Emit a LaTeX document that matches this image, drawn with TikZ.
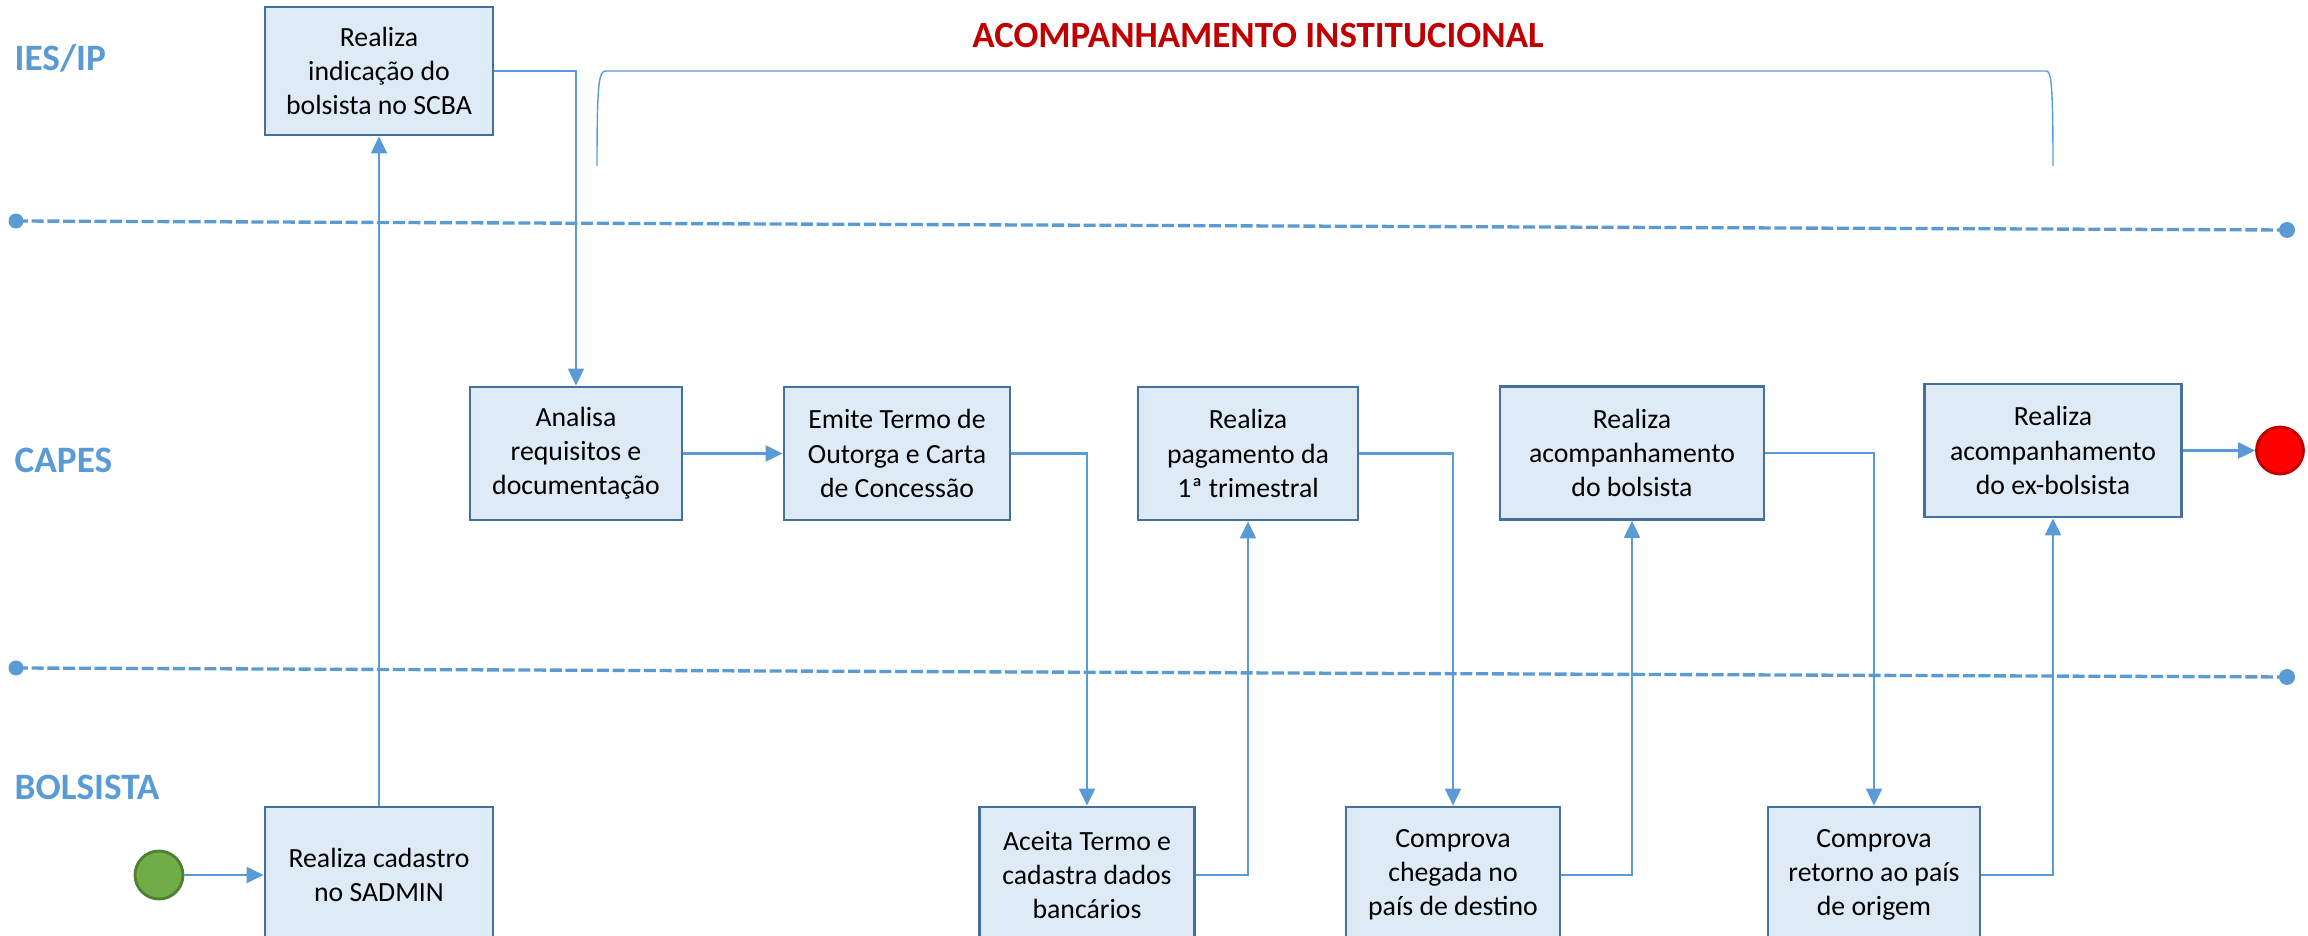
\documentclass[tikz,border=0pt]{standalone}
\usepackage{fontspec}
\setmainfont{Carlito}
\usetikzlibrary{arrows.meta}

\begin{document}
\begin{tikzpicture}
%% Colors
\definecolor{laneCol}{HTML}{5B9BD5}
\definecolor{boxFill}{HTML}{DEEBF7}
\definecolor{boxLine}{HTML}{41719C}
\definecolor{titleCol}{HTML}{C00000}
\definecolor{startFill}{HTML}{70AD47}
\definecolor{startLine}{HTML}{507E32}
%% Styles
\tikzset{
actbox/.style={draw=boxLine, line width=0.8pt, fill=boxFill, align=center, inner sep=0pt,
  minimum height=1.33cm, font=\fontsize{7.9}{9.7}\selectfont},
lane/.style={anchor=west, inner sep=0pt, text=laneCol, font=\fontsize{10.6}{12}\selectfont\bfseries},
flow/.style={draw=laneCol, line width=0.6pt, -{Triangle[length=1.7mm,width=1.6mm]}},
laneLine/.style={draw=laneCol, line width=0.95pt, dash pattern=on 1.2mm off 0.37mm},
}
\path[use as bounding box, clip] (0,0) rectangle (23.08,-9.36);

%% Lanes
\node[lane] (ies) at (0.14,-0.58) {IES/IP};
\node[lane] (capes) at (0.14,-4.60) {CAPES};
\node[lane] (bolsista) at (0.14,-7.87) {BOLSISTA};
\foreach \ya/\yb in {2.21/2.30, 6.68/6.77}{
\path[laneLine] (0.16,-\ya) -- (22.87,-\yb);
\path[fill=laneCol] (0.16,-\ya) circle (0.075) (22.87,-\yb) circle (0.08);
}

%% Institutional follow-up
\node[inner sep=0pt, text=titleCol, font=\fontsize{10.5}{12}\selectfont\bfseries] (titulo) at (12.58,-0.36) {ACOMPANHAMENTO INSTITUCIONAL};
\path[draw=laneCol, line width=0.4pt] (5.97,-1.66) .. controls (5.97,-0.80) and (5.99,-0.71) .. (6.06,-0.71)
-- (20.46,-0.71) .. controls (20.51,-0.71) and (20.53,-0.80) .. (20.53,-1.66);

%% Activities
\node[actbox, minimum width=2.28cm, minimum height=1.28cm] (indica) at (3.79,-0.71) {Realiza\\indicação do\\bolsista no SCBA};
\node[actbox, minimum width=2.28cm, minimum height=1.36cm] (cadastro) at (3.79,-8.75) {Realiza cadastro\\no SADMIN};
\node[actbox, minimum width=2.12cm] (analisa) at (5.76,-4.535) {Analisa\\requisitos e\\documentação};
\node[actbox, minimum width=2.26cm] (emite) at (8.97,-4.535) {Emite Termo de\\Outorga e Carta\\de Concessão};
\node[actbox, minimum width=2.20cm] (pagamento) at (12.48,-4.535) {Realiza\\pagamento da\\1ª trimestral};
\node[actbox, minimum width=2.64cm] (acompanha) at (16.32,-4.53) {Realiza\\acompanhamento\\do bolsista};
\node[actbox, minimum width=2.57cm] (exbolsista) at (20.53,-4.505) {Realiza\\acompanhamento\\do ex-bolsista};
\node[actbox, minimum width=2.15cm, minimum height=1.36cm] (aceita) at (10.87,-8.75) {Aceita Termo e\\cadastra dados\\bancários};
\node[actbox, minimum width=2.14cm, minimum height=1.36cm] (chegada) at (14.53,-8.75) {Comprova\\chegada no\\país de destino};
\node[actbox, minimum width=2.12cm, minimum height=1.36cm] (retorno) at (18.74,-8.75) {Comprova\\retorno ao país\\de origem};

%% Start and end
\node[circle, draw=startLine, fill=startFill, line width=0.8pt, minimum size=0.48cm, inner sep=0pt] (inicio) at (1.59,-8.75) {};
\node[circle, draw=titleCol, fill=red, line width=0.8pt, minimum size=0.47cm, inner sep=0pt] (fim) at (22.80,-4.505) {};

%% Flow
\path[flow] (inicio) -- (cadastro);
\path[flow] (cadastro) -- (indica);
\path[flow] (indica.east) -| (analisa.north);
\path[flow] (analisa) -- (emite);
\foreach \a/\b/\side in {emite/aceita/north, aceita/pagamento/south, pagamento/chegada/north,
chegada/acompanha/south, acompanha/retorno/north, retorno/exbolsista/south}{
\path[flow] (\a.east) -| (\b.\side);
}
\path[flow] (exbolsista) -- (fim);

\end{tikzpicture}
\end{document}
